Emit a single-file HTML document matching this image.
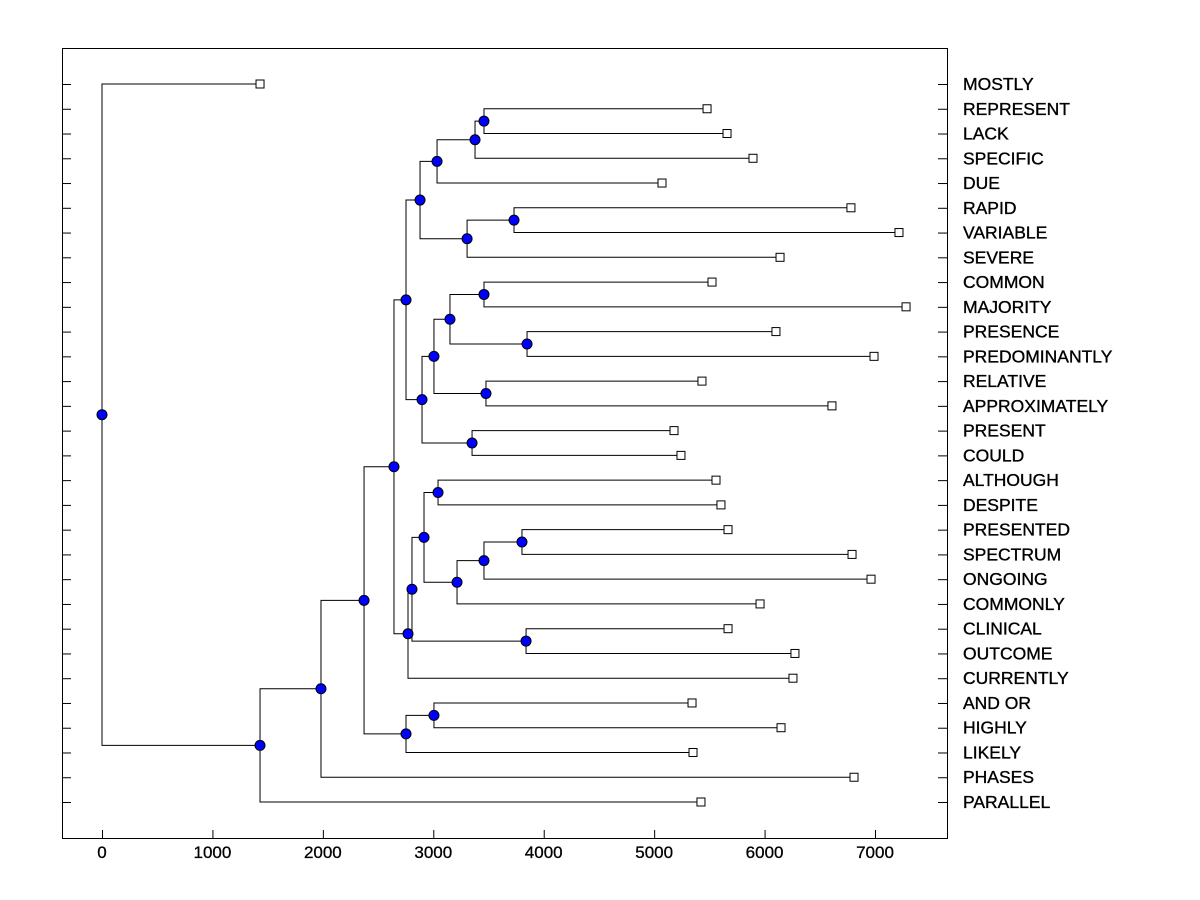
<!DOCTYPE html>
<html><head><meta charset="utf-8"><style>
html,body{margin:0;padding:0;background:#fff;}
svg{display:block;font-family:"Liberation Sans",Arial,sans-serif;}
</style></head><body>
<svg id="chart" width="1200" height="900" viewBox="0 0 1200 900">
<rect x="62.5" y="48.5" width="885" height="790" fill="#fff" stroke="#000"/>
<g id="links"></g>
<g id="marks"></g>
<g id="axis"></g>
</svg>
<script>
const leafLabels = ["MOSTLY","REPRESENT","LACK","SPECIFIC","DUE","RAPID","VARIABLE","SEVERE","COMMON","MAJORITY","PRESENCE","PREDOMINANTLY","RELATIVE","APPROXIMATELY","PRESENT","COULD","ALTHOUGH","DESPITE","PRESENTED","SPECTRUM","ONGOING","COMMONLY","CLINICAL","OUTCOME","CURRENTLY","AND OR","HIGHLY","LIKELY","PHASES","PARALLEL"];
const leafValues = [1431,5479,5660,5895,5071,6782,7217,6140,5524,7281,6103,6991,5433,6610,5180,5243,5560,5605,5669,6792,6964,5959,5669,6275,6257,5343,6149,5352,6810,5424];
const nodeNames = ["root","N1","N2","N3","N5","N6","N4","N7","N8","N9","N11","N13","N14","N12","N15","N10","N16","N18","N20","N21","N19","N17","N22","N23","N25","N26","N27","N28","N24"];
const nodeHeights = [0,1431,1983,2373,2753,3006,2644,2753,2771,2880,3034,3378,3459,3306,3731,2898,3006,3151,3459,3849,3477,3351,2807,2916,3043,3215,3459,3803,3840];
const nodeChildren = [["L0","N1"],["N2","L29"],["N3","L28"],["N4","N5"],["N6","L27"],["L25","L26"],["N7","N8"],["N9","N10"],["N22","L24"],["N11","N12"],["N13","L4"],["N14","L3"],["L1","L2"],["N15","L7"],["L5","L6"],["N16","N17"],["N18","N19"],["N20","N21"],["L8","L9"],["L10","L11"],["L12","L13"],["L14","L15"],["N23","N24"],["N25","N26"],["L16","L17"],["N27","L21"],["N28","L20"],["L18","L19"],["L22","L23"]];
const xTicks = [0,1000,2000,3000,4000,5000,6000,7000];

const X = v => 102 + v * 0.11043;
const Y = i => 84 + i * (802 - 84) / 29;
const NS = "http://www.w3.org/2000/svg";
const links = document.getElementById('links'), marks = document.getElementById('marks'), axis = document.getElementById('axis');
function mk(tag, attrs, parent){const e=document.createElementNS(NS,tag);for(const k in attrs)e.setAttribute(k,attrs[k]);parent.appendChild(e);return e;}

const pos = {};
leafLabels.forEach((l,i)=>{pos["L"+i]={x:X(leafValues[i]),y:Y(i)};});
function resolve(name){
  if(pos[name])return pos[name];
  const k=nodeNames.indexOf(name);
  const a=resolve(nodeChildren[k][0]), b=resolve(nodeChildren[k][1]);
  pos[name]={x:X(nodeHeights[k]),y:(a.y+b.y)/2};
  return pos[name];
}
nodeNames.forEach(n=>resolve(n));
nodeNames.forEach((n,k)=>{
  const p=pos[n];
  nodeChildren[k].forEach(c=>{
    const q=pos[c];
    const e=mk('path',{d:`M${p.x},${p.y}V${q.y}H${q.x}`,fill:'none',stroke:'#000','stroke-width':1},links);
    
    
  });
});
leafLabels.forEach((l,i)=>{
  const p=pos["L"+i];
  const r=mk('rect',{x:p.x-4,y:p.y-4,width:8,height:8,fill:'#fff',stroke:'#000'},marks);
  
  
  const t=mk('text',{x:963,y:p.y+6,'font-size':17.5,fill:'#000',stroke:'#000','stroke-width':0.35},axis);
  t.textContent=l;
  
  
  const tl=mk('line',{x1:62,x2:71,y1:p.y+0.5,y2:p.y+0.5,stroke:'#000'},axis);
  
  
  const tr=mk('line',{x1:938,x2:947,y1:p.y+0.5,y2:p.y+0.5,stroke:'#000'},axis);
  
  
});
nodeNames.forEach(n=>{
  const p=pos[n];
  const c=mk('circle',{cx:p.x,cy:p.y,r:5,fill:'#0000ff',stroke:'#000'},marks);
  
  
});
xTicks.forEach(v=>{
  const tk=mk('line',{x1:X(v)+0.5,x2:X(v)+0.5,y1:830,y2:838,stroke:'#000'},axis);
  
  
  const t=mk('text',{x:X(v),y:858,'font-size':17,'text-anchor':'middle',fill:'#000',stroke:'#000','stroke-width':0.3},axis);
  t.textContent=v;
  
  
});
</script>
</body></html>
